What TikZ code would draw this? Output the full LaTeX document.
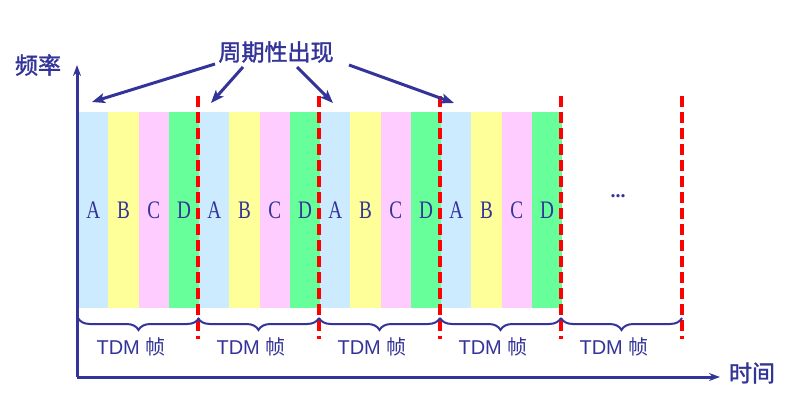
\documentclass[tikz,border=0pt]{standalone}
\usepackage{fontspec}
\setsansfont{Liberation Sans}
\setmainfont{Liberation Serif}
\newfontfamily\cjk{Noto Sans CJK SC}
\newfontfamily\cjkb[FakeBold=1.5]{Noto Sans CJK SC}
\usetikzlibrary{arrows.meta,decorations.pathreplacing}
\definecolor{axisblue}{HTML}{333399}
\definecolor{ca}{HTML}{CCEBFF}
\definecolor{cb}{HTML}{FFFF99}
\definecolor{cc}{HTML}{FFCCFF}
\definecolor{cd}{HTML}{66FF99}
\newcommand\slotletter[1]{\scalebox{0.8}[1.05]{#1}}
\begin{document}
\begin{tikzpicture}[x=1pt,y=1pt,
  strip/.style={draw=none,minimum width=30.25pt,minimum height=196pt,inner sep=0pt,anchor=south west,text=axisblue,font=\fontsize{24}{24}\selectfont},
  divline/.style={red,line width=3.2pt,dash pattern=on 11pt off 5pt},
  axisline/.style={axisblue,line width=3pt,-{Stealth[length=11pt,width=8pt]}},
  callout/.style={axisblue,line width=3pt,-{Stealth[length=13pt,width=10pt,inset=3pt]}},
  bracestyle/.style={axisblue,line width=2pt,decorate,decoration={brace,mirror,amplitude=12pt}},
  framelabel/.style={text=axisblue,font=\sffamily\fontsize{20}{20}\selectfont},
  biglabel/.style={text=axisblue,font=\cjkb\fontsize{23}{23}\selectfont}]
\useasboundingbox (0,0) rectangle (789,410);
% strips
\foreach \f in {0,1,2,3}{
  \pgfmathsetmacro{\x}{78+121*\f}
  \node[strip,fill=ca] (a\f) at (\x,102) {\slotletter{A}};
  \node[strip,fill=cb] (b\f) at (\x+30.25,102) {\slotletter{B}};
  \node[strip,fill=cc] (c\f) at (\x+60.5,102) {\slotletter{C}};
  \node[strip,fill=cd] (d\f) at (\x+90.75,102) {\slotletter{D}};
}
\node[text=axisblue,font=\bfseries\fontsize{20}{20}\selectfont] (dots) at (618,214) {...};
% dashed dividers
\foreach \i/\x in {1/198,2/319,3/440,4/561,5/682}{
  \coordinate (dt\i) at (\x,314);
  \coordinate (db\i) at (\x,71);
  \draw[divline] (dt\i) -- (db\i);
}
% braces and labels
\foreach \i/\x in {0/78,1/198,2/319,3/440,4/561}{
  \coordinate (bl\i) at (\x,92);
  \coordinate (br\i) at (\x+121,92);
  \draw[bracestyle] (bl\i) -- (br\i);
  \node[framelabel] (lab\i) at (\x+53,63) {TDM {\cjk 帧}};
}
% axes
\coordinate (o) at (77,33);
\coordinate (ytip) at (77,345);
\coordinate (xtip) at (720,33);
\draw[axisline] (o) -- (ytip);
\draw[axisline] (o) -- (xtip);
\node[biglabel] (freq) at (38,345) {频率};
\node[biglabel] (time) at (752,37) {时间};
% title and callouts
\node[biglabel] (title) at (276,358) {周期性出现};
\coordinate (s1) at (215,346);
\coordinate (s2) at (243,343);
\coordinate (s3) at (297,343);
\coordinate (s4) at (349,345);
\coordinate (e1) at (92,308);
\coordinate (e2) at (211,307);
\coordinate (e3) at (333,307);
\coordinate (e4) at (454,307);
\draw[callout] (s1) -- (e1);
\draw[callout] (s2) -- (e2);
\draw[callout] (s3) -- (e3);
\draw[callout] (s4) -- (e4);
\end{tikzpicture}
\end{document}
